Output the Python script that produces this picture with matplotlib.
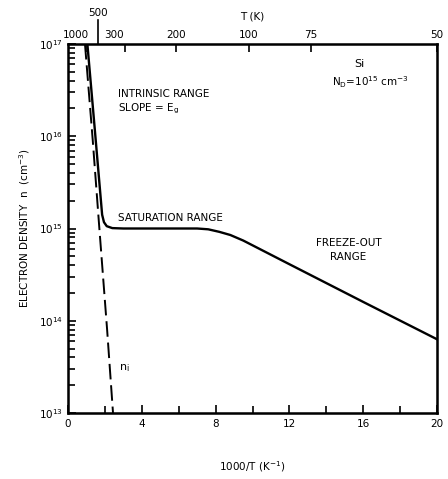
import numpy as np
import matplotlib
matplotlib.use("Agg")
import matplotlib.pyplot as plt
import matplotlib.ticker as mticker
import matplotlib.transforms as mtrans

plt.rcParams['font.family'] = 'DejaVu Sans'
plt.rcParams['mathtext.default'] = 'regular'

# electron density n vs 1000/T
n_x = [1.05, 1.45, 1.85, 1.95, 2.1, 2.4, 3.0, 7.0, 7.6, 8.2, 8.8, 9.5, 12.0, 16.0, 20.0]
n_val = [1.0e17, 1.2e16, 1.41e15, 1.17e15, 1.06e15, 1.01e15, 1.0e15, 1.0e15,
         9.8e14, 9.2e14, 8.5e14, 7.4e14, 4.1e14, 1.6e14, 6.3e13]

# intrinsic density ni (dashed)
ni_x = [0.92, 1.34, 1.70, 2.12, 2.44]
ni_val = [1.0e17, 9.1e15, 1.0e15, 8.0e13, 1.0e13]

# top axis: temperature in K
top_pos = [0.97, 3.08, 5.85, 9.8, 13.15, 20.0]
top_lbl = ['', '', '200', '100', '75', '50']
t500_pos = 1.6

fig = plt.figure(figsize=(4.48, 4.79), dpi=100)
ax = fig.add_axes([68/448, 1-413/479, 369/448, 369/479])

ax.plot(n_x, n_val, 'k-', lw=1.7)
ax.plot(ni_x, ni_val, 'k-', lw=1.4, dashes=(8, 3))

ax.set_yscale('log')
ax.set_xlim(0, 20)
ax.set_ylim(1e13, 1e17)

ax.xaxis.set_major_locator(mticker.MultipleLocator(4))
ax.xaxis.set_minor_locator(mticker.MultipleLocator(2))
ax.yaxis.set_major_locator(mticker.LogLocator(base=10, numticks=10))
ax.yaxis.set_minor_locator(mticker.LogLocator(base=10, subs=np.arange(2, 10), numticks=50))
ax.yaxis.set_minor_formatter(mticker.NullFormatter())
ax.tick_params(which='both', direction='in', top=False, right=False,
               labelsize=7.5, width=1.2)
ax.tick_params(which='major', length=6)
ax.tick_params(which='minor', length=5)
ax.tick_params(axis='x', pad=4)
for sp in ax.spines.values():
    sp.set_linewidth(1.8)

ax2 = ax.twiny()
ax2.set_xlim(0, 20)
ax2.set_xticks(top_pos)
ax2.set_xticklabels(top_lbl)
ax2.tick_params(direction='in', length=6, width=1.2, labelsize=7.5, pad=3)

trans = mtrans.blended_transform_factory(ax.transData, ax.transAxes)
# labels 1000 and 300 sit a bit left of their ticks
ax.text(0.45, 1.01, '1000', transform=trans, ha='center', va='bottom', fontsize=7.5)
ax.text(2.5, 1.01, '300', transform=trans, ha='center', va='bottom', fontsize=7.5)
# the 500 K tick sticks out above the frame
ax.plot([t500_pos, t500_pos], [1.0, 1.065], 'k-', lw=1.2, transform=trans, clip_on=False)
ax.text(t500_pos, 1.07, '500', transform=trans, ha='center', va='bottom', fontsize=7.5)
ax.text(10.0, 1.062, 'T (K)', transform=trans, ha='center', va='bottom', fontsize=7.5)

ax.set_xlabel('1000/T (K$^{-1}$)', fontsize=7.5, labelpad=22)
ax.set_ylabel('ELECTRON DENSITY  n  (cm$^{-3}$)', fontsize=7.5, labelpad=5)

ax.text(2.7, 2.9e16, 'INTRINSIC RANGE', fontsize=7.5, va='center')
ax.text(2.7, 2.0e16, 'SLOPE = E$_g$', fontsize=7.5, va='center')
ax.text(2.7, 1.3e15, 'SATURATION RANGE', fontsize=7.5, va='center')
ax.text(15.2, 6.9e14, 'FREEZE-OUT', fontsize=7.5, ha='center', va='center')
ax.text(15.2, 4.9e14, 'RANGE', fontsize=7.5, ha='center', va='center')
ax.text(15.8, 6.0e16, 'Si', fontsize=8, ha='center', va='center')
ax.text(16.4, 3.9e16, 'N$_D$=10$^{15}$ cm$^{-3}$', fontsize=7.5, ha='center', va='center')
ax.text(2.75, 3.1e13, 'n$_i$', fontsize=8, va='center')

fig.savefig('out.png', dpi=100)
